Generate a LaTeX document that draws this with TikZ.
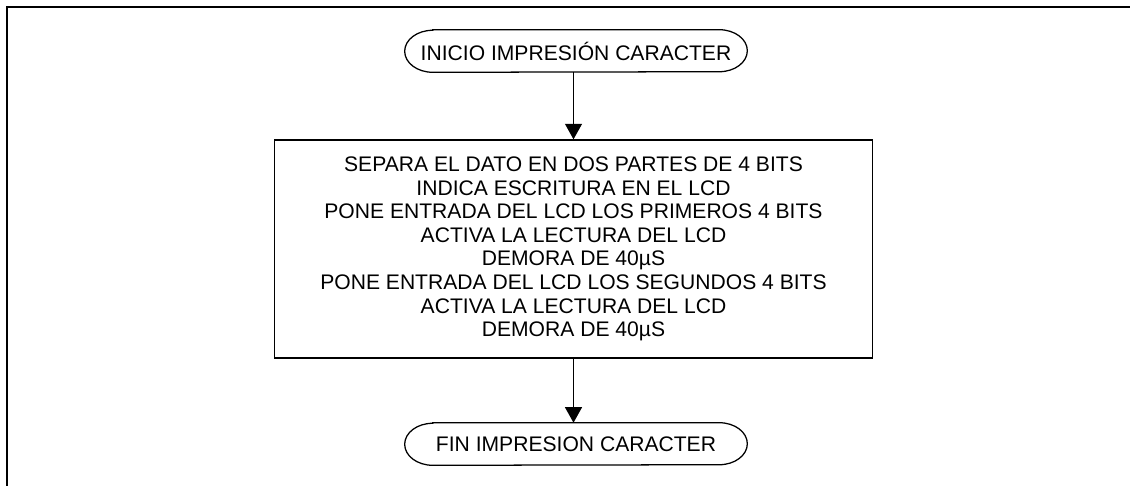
\documentclass[tikz,border=0pt]{standalone}
\usepackage{fontspec}
\setmainfont{Liberation Sans}
\usetikzlibrary{arrows.meta}

\begin{document}
\begin{tikzpicture}[x=0.025cm, y=-0.025cm,
    every node/.style={font=\fontsize{15}{16.8}\selectfont},
    terminal/.style={rectangle, minimum width=8.55cm, minimum height=1.05cm, inner sep=0pt},
    process/.style={draw, line width=0.9pt, rectangle, align=center,
      minimum width=14.93cm, minimum height=5.45cm},
    flow/.style={line width=0.9pt, -{Triangle[length=11pt, width=12pt]}}]
  \useasboundingbox (0,0) rectangle (1130,486);
  % frame
  \draw[line width=1.6pt] (7,490) -- (7,7) -- (1134,7);

  % start / process / end
  \node[terminal] (inicio) at (576,51) {INICIO IMPRESIÓN CARACTER};
  \node[process] (dato) at (573.5,249) {%
    SEPARA EL DATO EN DOS PARTES DE 4 BITS\\
    INDICA ESCRITURA EN EL LCD\\
    PONE ENTRADA DEL LCD LOS PRIMEROS 4 BITS\\
    ACTIVA LA LECTURA DEL LCD\\
    DEMORA DE 40µS\\
    PONE ENTRADA DEL LCD LOS SEGUNDOS 4 BITS\\
    ACTIVA LA LECTURA DEL LCD\\
    DEMORA DE 40µS};
  \node[terminal] (fin) at (576,444) {FIN IMPRESION CARACTER};

  % terminal outlines with elliptical ends
  \foreach \t in {inicio, fin}
    \draw[line width=0.9pt] ([xshift=0.7cm]\t.north west) -- ([xshift=-0.7cm]\t.north east)
      arc[start angle=90, end angle=-90, x radius=0.7cm, y radius=0.525cm]
      -- ([xshift=0.7cm]\t.south west)
      arc[start angle=270, end angle=90, x radius=0.7cm, y radius=0.525cm] -- cycle;

  \draw[flow] (inicio.south -| dato) -- (dato);
  \draw[flow] (dato) -- (fin.north -| dato);
\end{tikzpicture}
\end{document}
